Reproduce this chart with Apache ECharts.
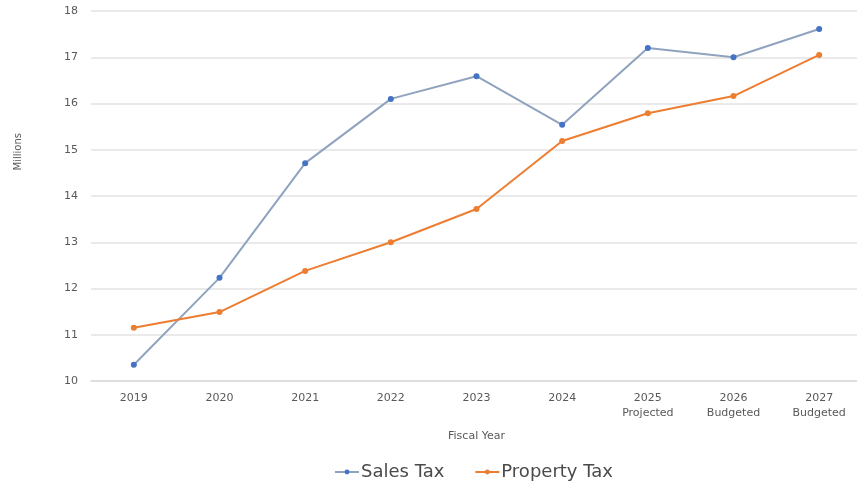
<!DOCTYPE html>
<html>
<head>
<meta charset="utf-8">
<script src="https://cdn.jsdelivr.net/npm/echarts@6/dist/echarts.min.js"></script>
<style>
  html, body { margin: 0; padding: 0; background: #fff; }
  #chart { width: 857px; height: 486px; }
</style>
</head>
<body>
<div id="chart"></div>
<script>
// Fiscal years (with status on a second line)
const categories = ['2019', '2020', '2021', '2022', '2023', '2024',
  '2025\nProjected', '2026\nBudgeted', '2027\nBudgeted'];

// Revenue in millions
const salesTax    = [10.35, 12.23, 14.71, 16.10, 16.59, 15.54, 17.20, 17.00, 17.61];
const propertyTax = [11.15, 11.49, 12.38, 13.00, 13.72, 15.19, 15.79, 16.16, 17.05];

// Value axis ticks
const yMin = 10, yMax = 18, yStep = 1;

const font = '"DejaVu Sans", "Noto Sans", sans-serif';
const textGray = '#595959';

const chart = echarts.init(document.getElementById('chart'), null, { renderer: 'canvas' });

chart.setOption({
  animation: false,
  textStyle: { fontFamily: font },
  grid: {
    left: 91, top: 11, width: 771, height: 370,
    containLabel: false,
    outerBoundsMode: 'none'
  },
  legend: {
    top: 458,
    left: 329,
    itemWidth: 24,
    itemHeight: 6,
    itemGap: 30,
    textStyle: { fontSize: 18, color: '#4a4a4a', fontFamily: font, padding: [0, 0, 0, -3] },
    data: ['Sales Tax', 'Property Tax']
  },
  graphic: [{
    type: 'text',
    left: 13,
    top: 133,
    rotation: Math.PI / 2,
    style: { text: 'Millions', fontSize: 10, fill: textGray, fontFamily: font }
  }],
  xAxis: {
    type: 'category',
    data: categories,
    boundaryGap: true,
    name: 'Fiscal Year',
    nameLocation: 'middle',
    nameGap: 50,
    nameTextStyle: { fontSize: 11, color: textGray },
    axisLine: { lineStyle: { color: '#d9d9d9', width: 1.5 } },
    axisTick: { show: false },
    axisLabel: { fontSize: 11, color: textGray, margin: 10, lineHeight: 15 }
  },
  yAxis: {
    type: 'value',
    min: yMin,
    max: yMax,
    interval: yStep,
    axisLine: { show: false },
    axisTick: { show: false },
    axisLabel: { fontSize: 11, color: textGray, margin: 13 },
    splitLine: { lineStyle: { color: '#e3e3e3', width: 1.5 } }
  },
  series: [
    {
      name: 'Sales Tax',
      type: 'line',
      data: salesTax,
      symbol: 'circle',
      symbolSize: 6,
      lineStyle: { color: '#8fa3bf', width: 2 },
      itemStyle: { color: '#4472c4' }
    },
    {
      name: 'Property Tax',
      type: 'line',
      data: propertyTax,
      symbol: 'circle',
      symbolSize: 6,
      lineStyle: { color: '#ed7d31', width: 2 },
      itemStyle: { color: '#ed7d31' }
    }
  ]
});
</script>
</body>
</html>
